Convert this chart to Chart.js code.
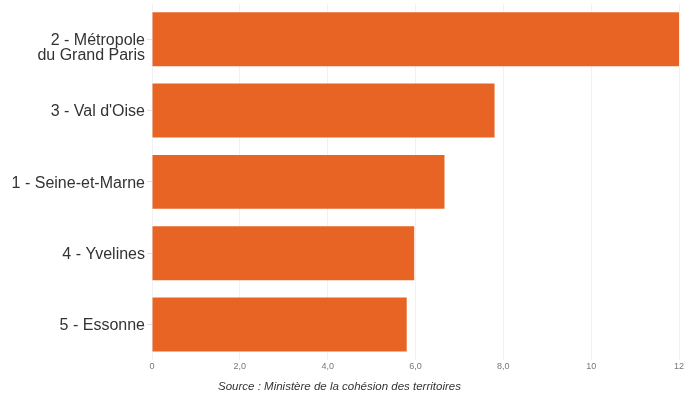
<!DOCTYPE html>
<html>
<head>
<meta charset="utf-8">
<script src="https://cdn.jsdelivr.net/npm/chart.js@4"></script>
<style>
    html, body { margin: 0; padding: 0; background: #fff; }
    #wrap { width: 686px; height: 394px; }
</style>
</head>
<body>
<div id="wrap"><canvas id="barChart" width="686" height="394"></canvas></div>
<script>
// ===== DATA =====
// first label starts with an empty line so "2 - Métropole" sits level with the bar centre
var categories = [['', '2 - Métropole', 'du Grand Paris'], "3 - Val d'Oise", '1 - Seine-et-Marne', '4 - Yvelines', '5 - Essonne'];
var values = [12, 7.8, 6.66, 5.97, 5.8];
var xTickLabels = ['0', '2,0', '4,0', '6,0', '8,0', '10', '12'];
var sourceText = 'Source : Ministère de la cohésion des territoires';

var FONT = "'Liberation Sans', Arial, Helvetica, sans-serif";

// ===== CHART =====
var ctx = document.getElementById('barChart').getContext('2d');
window.myChart = new Chart(ctx, {
    type: 'bar',
    data: {
        labels: categories,
        datasets: [{
            data: values,
            backgroundColor: '#e86424',
            borderWidth: 0,
            categoryPercentage: 1,
            barPercentage: 0.756
        }]
    },
    options: {
        indexAxis: 'y',
        responsive: false,
        animation: false,
        layout: {
            padding: { top: 3.5, right: 7, bottom: 0, left: 0 }
        },
        plugins: {
            legend: { display: false },
            tooltip: { enabled: false },
            title: {
                display: true,
                position: 'bottom',
                text: sourceText,
                color: '#333',
                font: { family: FONT, size: 11.5, style: 'italic', weight: 'normal', lineHeight: 1.2 },
                padding: { top: 0, bottom: 0 }
            }
        },
        scales: {
            x: {
                min: 0,
                max: 12,
                z: 1,
                border: { display: false },
                grid: {
                    color: 'rgba(215,215,215,0.35)',
                    lineWidth: 1,
                    drawTicks: false
                },
                ticks: {
                    stepSize: 2,
                    padding: 1,
                    color: '#777',
                    font: { family: FONT, size: 9 },
                    callback: function(value, index) {
                        return xTickLabels[index];
                    }
                },
                afterFit: function(scale) {
                    scale.height = 20;
                    scale.paddingLeft = 0;
                    scale.paddingRight = 0;
                }
            },
            y: {
                border: { display: false },
                grid: {
                    offset: false,
                    drawOnChartArea: false,
                    drawTicks: true,
                    tickLength: 5,
                    color: '#e2e2e2'
                },
                ticks: {
                    padding: 2,
                    labelOffset: 1.5,
                    color: '#333',
                    font: { family: FONT, size: 16, lineHeight: 0.95 }
                },
                afterFit: function(scale) {
                    scale.width = 152;
                    scale.paddingTop = 0;
                    scale.paddingBottom = 0;
                }
            }
        }
    }
});
</script>
</body>
</html>
